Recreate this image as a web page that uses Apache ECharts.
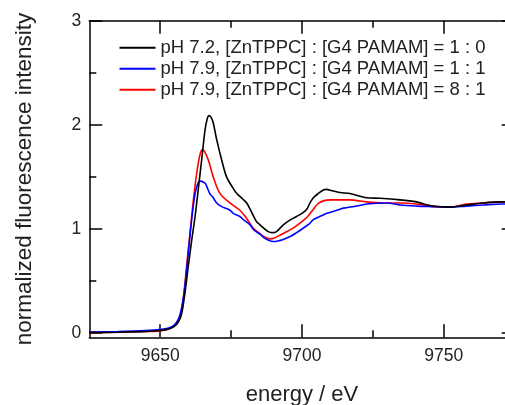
<!DOCTYPE html>
<html><head><meta charset="utf-8">
<script src="https://cdn.jsdelivr.net/npm/echarts@6/dist/echarts.min.js"></script>
<style>html,body{margin:0;padding:0;background:#fff}#c{width:505px;height:405px}</style>
</head><body><div id="c"></div>
<script>
const seriesNames = [
  'pH 7.2, [ZnTPPC] : [G4 PAMAM] = 1 : 0',
  'pH 7.9, [ZnTPPC] : [G4 PAMAM] = 1 : 1',
  'pH 7.9, [ZnTPPC] : [G4 PAMAM] = 8 : 1'
];
const xTickLabels = [9650, 9700, 9750];
const xMinorTicks = [9675, 9725];
const yTickLabels = [0, 1, 2, 3];
const yMinorTicks = [0.5, 1.5, 2.5];

const blackE = [9625,9635,9645,9650,9653,9655,9656.5,9657.6,9658.7,9659.9,9661.1,9662.3,9663.4,9664.6,9665.8,9666.6,9667.2,9668,9668.7,9669.9,9671.7,9673.4,9675.5,9677,9679,9680.5,9681.7,9682.8,9684,9685.2,9686.4,9688.1,9689.5,9691,9693.4,9696,9698.1,9700,9701.7,9702.8,9704,9705.7,9707.5,9708.5,9711,9713.4,9716.9,9722.8,9727.5,9734.6,9740.4,9743,9746.3,9752.2,9758,9763.9,9770.4,9775];
const blackV = [0.005,0.008,0.015,0.025,0.04,0.065,0.11,0.19,0.38,0.64,0.89,1.12,1.375,1.66,1.95,2.06,2.09,2.07,2.02,1.86,1.66,1.50,1.40,1.34,1.29,1.25,1.19,1.13,1.07,1.04,1.01,0.975,0.965,0.975,1.04,1.09,1.12,1.15,1.19,1.25,1.30,1.34,1.375,1.38,1.365,1.35,1.34,1.30,1.295,1.28,1.26,1.24,1.22,1.21,1.23,1.25,1.26,1.26];

const blueE = [9625,9635,9645,9650,9653,9655,9656.5,9657.6,9658.7,9659.9,9661.1,9662.3,9663.4,9664.1,9665.8,9666.4,9667.5,9668.7,9669.9,9671.7,9674.6,9675.8,9678.1,9679.3,9681.7,9683,9685.2,9686.4,9688,9689.9,9691.5,9693.4,9696,9698.1,9700,9702.8,9704,9707.5,9708.7,9713.4,9714.6,9719.3,9722.8,9729.9,9734.6,9740.4,9746.3,9752.2,9758,9764,9770.4,9775];
const blueV = [0.01,0.015,0.025,0.035,0.05,0.08,0.14,0.25,0.445,0.77,1.09,1.34,1.445,1.46,1.44,1.41,1.34,1.30,1.25,1.215,1.18,1.15,1.12,1.09,1.04,0.99,0.95,0.92,0.895,0.88,0.885,0.90,0.93,0.965,1.00,1.055,1.09,1.135,1.15,1.19,1.20,1.22,1.24,1.25,1.23,1.22,1.215,1.21,1.22,1.23,1.24,1.24];

const redE = [9625,9635,9645,9650,9653,9655,9656,9657,9658.1,9659.3,9660.5,9661.7,9662.9,9664,9664.8,9665.5,9667,9668.7,9671.1,9674.6,9678.1,9680,9681.7,9682.8,9684.5,9686.4,9688.7,9690,9692.2,9695,9697,9699.5,9702,9704,9705.5,9707.5,9710,9716.9,9722.8,9728.7,9734.6,9740.4,9746.3,9752.2,9758,9763.9,9770.4,9775];
const redV = [0.005,0.008,0.015,0.02,0.04,0.07,0.10,0.15,0.32,0.64,0.96,1.28,1.54,1.71,1.76,1.75,1.66,1.50,1.34,1.25,1.18,1.12,1.05,1.01,0.97,0.93,0.905,0.91,0.94,0.98,1.01,1.06,1.12,1.19,1.24,1.27,1.28,1.28,1.26,1.25,1.25,1.24,1.215,1.21,1.24,1.25,1.26,1.26];

const zip = (a, b) => a.map((v, i) => [v, b[i]]);
const FONT = 'Liberation Sans';
const TXT = '#222';
const X0 = 9625, X1 = 9775, Y0 = -0.04, Y1 = 3;
const fmt = v => String(v);

function xAx(pos, ticks, len, showLine, labels, extra) {
  return Object.assign({
    type: 'value', position: pos, min: X0, max: X1,
    axisLine: { show: showLine, onZero: false, lineStyle: { color: '#000', width: 1.5 } },
    axisTick: { show: true, inside: true, length: len, customValues: ticks, lineStyle: { color: '#000', width: 1.5 } },
    axisLabel: labels ? { show: true, customValues: labels, formatter: fmt, color: TXT, fontFamily: FONT, fontSize: 17.5, margin: 10 } : { show: false },
    splitLine: { show: false }
  }, extra || {});
}
function yAx(pos, ticks, len, showLine, labels, extra) {
  return Object.assign({
    type: 'value', position: pos, min: Y0, max: Y1,
    axisLine: { show: showLine, onZero: false, lineStyle: { color: '#000', width: 1.5 } },
    axisTick: { show: true, inside: true, length: len, customValues: ticks, lineStyle: { color: '#000', width: 1.5 } },
    axisLabel: labels ? { show: true, customValues: labels, formatter: fmt, color: TXT, fontFamily: FONT, fontSize: 17.5, margin: 8 } : { show: false },
    splitLine: { show: false }
  }, extra || {});
}

const chart = echarts.init(document.getElementById('c'), null, { renderer: 'canvas' });
const colors = ['#000000', '#0000ff', '#ff0000'];
const datas = [zip(blackE, blackV), zip(blueE, blueV), zip(redE, redV)];
chart.setOption({
  animation: false,
  backgroundColor: '#fff',
  grid: { left: 89.3, width: 425.4, top: 20.7, height: 316.6, containLabel: false, outerBoundsMode: 'none' },
  legend: {
    orient: 'vertical', left: 119.5, top: 37.5, padding: 0, itemWidth: 36, itemHeight: 2, itemGap: 0.5,
    icon: 'rect',
    data: seriesNames,
    textStyle: { fontFamily: FONT, fontSize: 18.5, color: TXT, lineHeight: 20.5 }
  },
  xAxis: [
    xAx('bottom', xTickLabels, 13, true, xTickLabels, { name: 'energy / eV', nameLocation: 'middle', nameGap: 47, nameTextStyle: { fontFamily: FONT, fontSize: 22, color: TXT } }),
    xAx('bottom', xMinorTicks, 7, false, null),
    xAx('top', xTickLabels, 13, true, null),
    xAx('top', xMinorTicks, 7, false, null)
  ],
  yAxis: [
    yAx('left', yTickLabels, 13, true, yTickLabels, { name: 'normalized fluorescence intensity', nameLocation: 'middle', nameGap: 53, nameTextStyle: { fontFamily: FONT, fontSize: 22.5, color: TXT } }),
    yAx('left', yMinorTicks, 7, false, null),
    yAx('right', yTickLabels, 13, true, null),
    yAx('right', yMinorTicks, 7, false, null)
  ],
  series: seriesNames.map((n, i) => ({
    name: n, type: 'line', xAxisIndex: 0, yAxisIndex: 0, data: datas[i],
    showSymbol: false, symbol: 'none', smooth: 0.3, z: 3 - i,
    lineStyle: { color: colors[i], width: 1.6 }, itemStyle: { color: colors[i] }
  }))
});
</script></body></html>
